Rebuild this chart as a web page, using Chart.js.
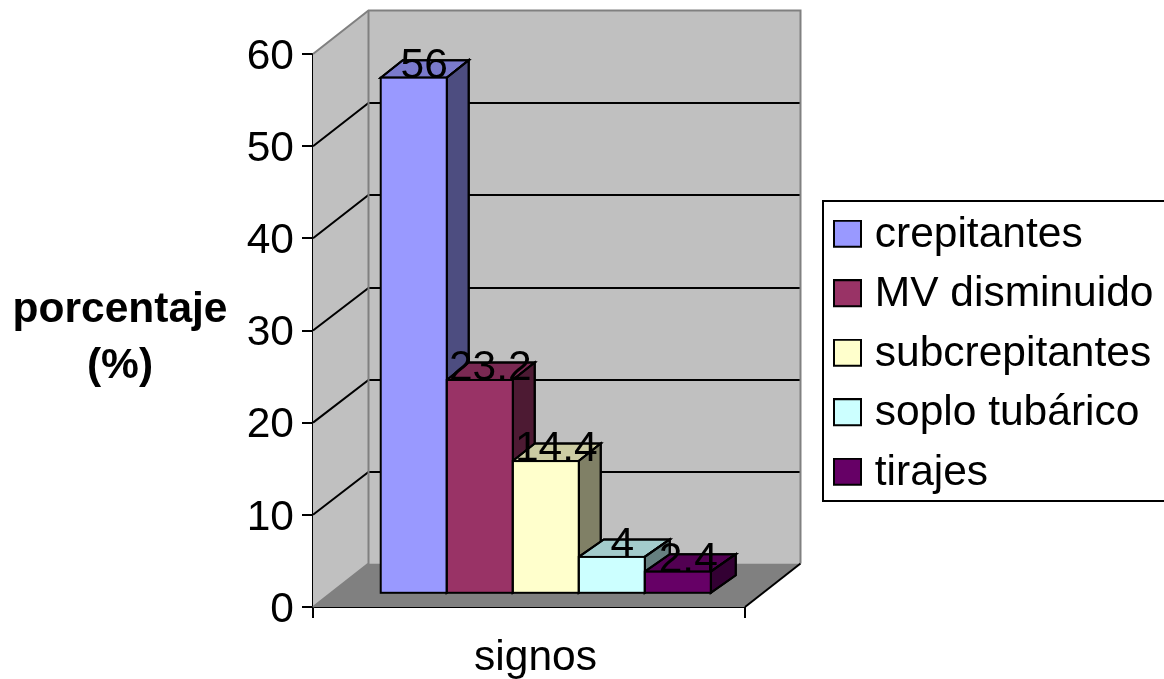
<!DOCTYPE html>
<html>
<head>
<meta charset="utf-8">
<title>signos</title>
<script src="https://cdn.jsdelivr.net/npm/chart.js@4"></script>
<style>
  body { margin: 0; background: #fff; }
  canvas { display: block; }
</style>
</head>
<body>
<canvas id="myChart" width="1164" height="679"></canvas>
<script>
const categories = ['signos'];
const seriesNames = ['crepitantes', 'MV disminuido', 'subcrepitantes', 'soplo tubárico', 'tirajes'];
const seriesValues = [56, 23.2, 14.4, 4, 2.4];
const seriesColors = ['#9999FF', '#993366', '#FFFFCC', '#CCFFFF', '#660066'];
const yTitleLines = ['porcentaje', '(%)'];

const FONT = '"Liberation Sans", Arial, sans-serif';
const FONT_SIZE = 42.5;

// fake 3d offsets
const wall = { dx: 55.5, dy: -43.5 };
const gridRise = -43;
const depth = { dx: 22, dy: -17.5 };
const shift = { dx: 16.75, dy: -13.2 };

function shade(hex, f) {
  const n = parseInt(hex.slice(1), 16);
  const r = Math.round((n >> 16) * f);
  const g = Math.round(((n >> 8) & 255) * f);
  const b = Math.round((n & 255) * f);
  return 'rgb(' + r + ',' + g + ',' + b + ')';
}

function poly(ctx, pts, fill, stroke, width) {
  ctx.beginPath();
  pts.forEach(function (p, i) {
    if (i === 0) ctx.moveTo(p[0], p[1]);
    else ctx.lineTo(p[0], p[1]);
  });
  if (fill) {
    ctx.closePath();
    ctx.fillStyle = fill;
    ctx.fill();
  }
  if (stroke) {
    ctx.strokeStyle = stroke;
    ctx.lineWidth = width || 2;
    ctx.stroke();
  }
}

// extra empty rows at the bottom lift the swatch a bit against its text
function swatch(color) {
  const c = document.createElement('canvas');
  c.width = 29;
  c.height = 31;
  const g = c.getContext('2d');
  g.fillStyle = color;
  g.fillRect(0, 0, 29, 28);
  g.strokeStyle = '#000';
  g.lineWidth = 2;
  g.strokeRect(1, 1, 27, 26);
  return c;
}

const box3d = {
  id: 'box3d',
  afterLayout(chart) {
    // legend sits outside the plot, move it and keep its clip box valid
    const lg = chart.legend;
    lg.left = 824.5;
    lg.top = 197;
    lg.right = 1164;
    lg.bottom = 560;
    lg.width = lg.right - lg.left;
    lg.height = lg.bottom - lg.top;
  },
  beforeDatasetsDraw(chart) {
    const ctx = chart.ctx;
    const a = chart.chartArea;
    const y = chart.scales.y;
    const wx = wall.dx, wy = wall.dy;

    // legend frame
    ctx.save();
    ctx.strokeStyle = '#000';
    ctx.lineWidth = 2;
    ctx.strokeRect(823, 201, 360, 300);

    // walls and floor
    poly(ctx, [[a.left + wx, a.top + wy], [a.right + wx, a.top + wy], [a.right + wx, a.bottom + wy], [a.left + wx, a.bottom + wy]], '#C0C0C0');
    poly(ctx, [[a.left, a.top], [a.left + wx, a.top + wy], [a.left + wx, a.bottom + wy], [a.left, a.bottom]], '#C0C0C0');
    poly(ctx, [[a.left, a.bottom], [a.right, a.bottom], [a.right + wx, a.bottom + wy], [a.left + wx, a.bottom + wy]], '#808080');

    // grid lines
    y.ticks.forEach(function (t) {
      if (t.value === 0 || t.value === y.max) return;
      const py = y.getPixelForValue(t.value);
      const back = Math.round(py + gridRise);
      poly(ctx, [[a.left, py], [a.left + wx, back], [a.right + wx, back]], null, '#000');
    });

    // wall edges
    poly(ctx, [[a.left, a.top], [a.left + wx, a.top + wy], [a.right + wx, a.top + wy], [a.right + wx, a.bottom + wy]], null, '#808080');
    poly(ctx, [[a.left + wx, a.top + wy], [a.left + wx, a.bottom + wy], [a.left, a.bottom]], null, '#808080');
    poly(ctx, [[a.right, a.bottom], [a.right + wx, a.bottom + wy]], null, '#000');

    // top and side of each bar, front faces come from chart.js afterwards
    chart.data.datasets.forEach(function (ds, i) {
      const el = chart.getDatasetMeta(i).data[0];
      const l = el.x - el.width / 2 + shift.dx;
      const r = el.x + el.width / 2 + shift.dx;
      const t = el.y + shift.dy;
      const b = el.base + shift.dy;
      const c = ds.backgroundColor;
      // the two short bars run a little deeper in the original
      const dx = depth.dx + (i > 2 ? 3 : 0);
      poly(ctx, [[l, t], [l + dx, t + depth.dy], [r + dx, t + depth.dy], [r, t]], shade(c, 0.8), '#000');
      ctx.closePath();
      ctx.stroke();
      poly(ctx, [[r, t], [r + dx, t + depth.dy], [r + dx, b + depth.dy], [r, b]], shade(c, 0.5), '#000');
      ctx.closePath();
      ctx.stroke();
    });
    ctx.restore();

    ctx.save();
    ctx.translate(shift.dx, shift.dy);
  },
  afterDatasetsDraw(chart) {
    const ctx = chart.ctx;
    ctx.restore();

    ctx.save();
    chart.data.datasets.forEach(function (ds, i) {
      const el = chart.getDatasetMeta(i).data[0];
      ctx.strokeStyle = '#000';
      ctx.lineWidth = 2;
      ctx.strokeRect(el.x - el.width / 2 + shift.dx, el.y + shift.dy, el.width, el.base - el.y);
    });

    // value labels
    ctx.fillStyle = '#000';
    ctx.font = FONT_SIZE + 'px ' + FONT;
    ctx.textAlign = 'center';
    ctx.textBaseline = 'alphabetic';
    chart.data.datasets.forEach(function (ds, i) {
      const el = chart.getDatasetMeta(i).data[0];
      ctx.fillText(String(ds.data[0]), el.x + shift.dx + 10.5, el.y + shift.dy);
    });

    // y title is horizontal here
    ctx.font = 'bold ' + FONT_SIZE + 'px ' + FONT;
    ctx.fillText(yTitleLines[0], 120, 322);
    ctx.fillText(yTitleLines[1], 120, 378);
    ctx.restore();
  }
};

new Chart(document.getElementById('myChart'), {
  type: 'bar',
  plugins: [box3d],
  data: {
    labels: categories,
    datasets: seriesNames.map(function (name, i) {
      return {
        label: name,
        data: [seriesValues[i]],
        backgroundColor: seriesColors[i],
        borderWidth: 0,
        clip: false,
        categoryPercentage: 0.764,
        barPercentage: 1
      };
    })
  },
  options: {
    responsive: false,
    animation: false,
    layout: { padding: { top: 54, right: 419, left: 0, bottom: 0 } },
    scales: {
      x: {
        afterFit(s) { s.height = 72; },
        grid: { drawOnChartArea: false, color: '#000', lineWidth: 2, tickLength: 11 },
        border: { color: '#000', width: 2 },
        ticks: { color: '#000', font: { family: FONT, size: FONT_SIZE }, padding: 15, labelOffset: 6.5 }
      },
      y: {
        min: 0,
        max: 60,
        afterFit(s) { s.width = 313; },
        grid: { drawOnChartArea: false, color: '#000', lineWidth: 2, tickLength: 11 },
        border: { color: '#000', width: 2 },
        ticks: { stepSize: 10, color: '#000', font: { family: FONT, size: FONT_SIZE }, padding: 8, labelOffset: 3 }
      }
    },
    plugins: {
      tooltip: { enabled: false },
      title: { display: false },
      legend: {
        position: 'chartArea',
        align: 'start',
        labels: {
          usePointStyle: true,
          pointStyleWidth: 12,
          padding: 17,
          color: '#000',
          font: { family: FONT, size: FONT_SIZE },
          generateLabels() {
            return seriesNames.map(function (name, i) {
              return { text: name, pointStyle: swatch(seriesColors[i]), datasetIndex: i, fontColor: '#000' };
            });
          }
        }
      }
    }
  }
});
</script>
</body>
</html>
